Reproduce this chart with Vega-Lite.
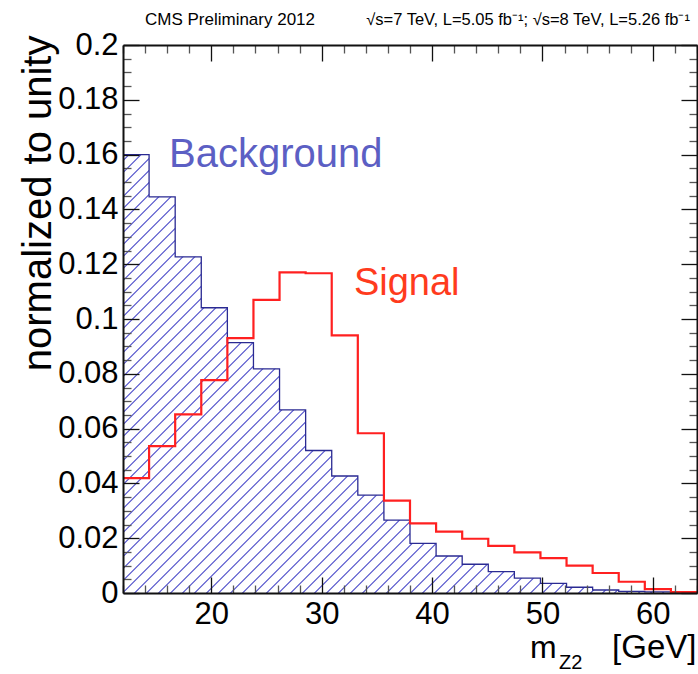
{
  "$schema": "https://vega.github.io/schema/vega-lite/v6.json",
  "width": 574,
  "height": 548,
  "autosize": {"type": "none"},
  "padding": {"left": 123, "top": 45, "right": 1, "bottom": 81},
  "background": "white",
  "config": {"font": "Liberation Sans", "view": {"stroke": null}},
  "data": {"values": [
    {"lo": 12, "hi": 14.3636, "bkg": 0.160, "sig": 0.0419},
    {"lo": 14.3636, "hi": 16.7273, "bkg": 0.1446, "sig": 0.0536},
    {"lo": 16.7273, "hi": 19.0909, "bkg": 0.1227, "sig": 0.0652},
    {"lo": 19.0909, "hi": 21.4545, "bkg": 0.1041, "sig": 0.0777},
    {"lo": 21.4545, "hi": 23.8182, "bkg": 0.0914, "sig": 0.093},
    {"lo": 23.8182, "hi": 26.1818, "bkg": 0.0818, "sig": 0.107},
    {"lo": 26.1818, "hi": 28.5455, "bkg": 0.0668, "sig": 0.117},
    {"lo": 28.5455, "hi": 30.9091, "bkg": 0.052, "sig": 0.1167},
    {"lo": 30.9091, "hi": 33.2727, "bkg": 0.0427, "sig": 0.094},
    {"lo": 33.2727, "hi": 35.6364, "bkg": 0.0357, "sig": 0.0583},
    {"lo": 35.6364, "hi": 38, "bkg": 0.0266, "sig": 0.0337},
    {"lo": 38, "hi": 40.3636, "bkg": 0.0181, "sig": 0.0254},
    {"lo": 40.3636, "hi": 42.7273, "bkg": 0.0135, "sig": 0.0224},
    {"lo": 42.7273, "hi": 45.0909, "bkg": 0.0105, "sig": 0.0198},
    {"lo": 45.0909, "hi": 47.4545, "bkg": 0.0078, "sig": 0.0172},
    {"lo": 47.4545, "hi": 49.8182, "bkg": 0.0054, "sig": 0.0148},
    {"lo": 49.8182, "hi": 52.1818, "bkg": 0.0035, "sig": 0.0127},
    {"lo": 52.1818, "hi": 54.5455, "bkg": 0.0021, "sig": 0.0100},
    {"lo": 54.5455, "hi": 56.9091, "bkg": 0.0011, "sig": 0.0073},
    {"lo": 56.9091, "hi": 59.2727, "bkg": 0.0006, "sig": 0.0041},
    {"lo": 59.2727, "hi": 61.6364, "bkg": 0.0004, "sig": 0.0014},
    {"lo": 61.6364, "hi": 64, "bkg": 0.0002, "sig": 0.0003}
  ]},
  "resolve": {"axis": {"x": "independent", "y": "independent"}},
  "layer": [
    {
      "transform": [{"fold": ["lo", "hi"], "as": ["side", "edge"]}],
      "mark": {
        "type": "area",
        "interpolate": "linear",
        "stroke": null,
        "fill": {
          "gradient": "linear",
          "x1": 0, "y1": 0, "x2": 1.32037, "y2": 1.00845,
          "stops": [
            {"offset": 0.00375, "color": "#fff"}, {"offset": 0.005, "color": "#3c3cc4"}, {"offset": 0.00625, "color": "#fff"},
            {"offset": 0.01375, "color": "#fff"}, {"offset": 0.015, "color": "#3c3cc4"}, {"offset": 0.01625, "color": "#fff"},
            {"offset": 0.02375, "color": "#fff"}, {"offset": 0.025, "color": "#3c3cc4"}, {"offset": 0.02625, "color": "#fff"},
            {"offset": 0.03375, "color": "#fff"}, {"offset": 0.035, "color": "#3c3cc4"}, {"offset": 0.03625, "color": "#fff"},
            {"offset": 0.04375, "color": "#fff"}, {"offset": 0.045, "color": "#3c3cc4"}, {"offset": 0.04625, "color": "#fff"},
            {"offset": 0.05375, "color": "#fff"}, {"offset": 0.055, "color": "#3c3cc4"}, {"offset": 0.05625, "color": "#fff"},
            {"offset": 0.06375, "color": "#fff"}, {"offset": 0.065, "color": "#3c3cc4"}, {"offset": 0.06625, "color": "#fff"},
            {"offset": 0.07375, "color": "#fff"}, {"offset": 0.075, "color": "#3c3cc4"}, {"offset": 0.07625, "color": "#fff"},
            {"offset": 0.08375, "color": "#fff"}, {"offset": 0.085, "color": "#3c3cc4"}, {"offset": 0.08625, "color": "#fff"},
            {"offset": 0.09375, "color": "#fff"}, {"offset": 0.095, "color": "#3c3cc4"}, {"offset": 0.09625, "color": "#fff"},
            {"offset": 0.10375, "color": "#fff"}, {"offset": 0.105, "color": "#3c3cc4"}, {"offset": 0.10625, "color": "#fff"},
            {"offset": 0.11375, "color": "#fff"}, {"offset": 0.115, "color": "#3c3cc4"}, {"offset": 0.11625, "color": "#fff"},
            {"offset": 0.12375, "color": "#fff"}, {"offset": 0.125, "color": "#3c3cc4"}, {"offset": 0.12625, "color": "#fff"},
            {"offset": 0.13375, "color": "#fff"}, {"offset": 0.135, "color": "#3c3cc4"}, {"offset": 0.13625, "color": "#fff"},
            {"offset": 0.14375, "color": "#fff"}, {"offset": 0.145, "color": "#3c3cc4"}, {"offset": 0.14625, "color": "#fff"},
            {"offset": 0.15375, "color": "#fff"}, {"offset": 0.155, "color": "#3c3cc4"}, {"offset": 0.15625, "color": "#fff"},
            {"offset": 0.16375, "color": "#fff"}, {"offset": 0.165, "color": "#3c3cc4"}, {"offset": 0.16625, "color": "#fff"},
            {"offset": 0.17375, "color": "#fff"}, {"offset": 0.175, "color": "#3c3cc4"}, {"offset": 0.17625, "color": "#fff"},
            {"offset": 0.18375, "color": "#fff"}, {"offset": 0.185, "color": "#3c3cc4"}, {"offset": 0.18625, "color": "#fff"},
            {"offset": 0.19375, "color": "#fff"}, {"offset": 0.195, "color": "#3c3cc4"}, {"offset": 0.19625, "color": "#fff"},
            {"offset": 0.20375, "color": "#fff"}, {"offset": 0.205, "color": "#3c3cc4"}, {"offset": 0.20625, "color": "#fff"},
            {"offset": 0.21375, "color": "#fff"}, {"offset": 0.215, "color": "#3c3cc4"}, {"offset": 0.21625, "color": "#fff"},
            {"offset": 0.22375, "color": "#fff"}, {"offset": 0.225, "color": "#3c3cc4"}, {"offset": 0.22625, "color": "#fff"},
            {"offset": 0.23375, "color": "#fff"}, {"offset": 0.235, "color": "#3c3cc4"}, {"offset": 0.23625, "color": "#fff"},
            {"offset": 0.24375, "color": "#fff"}, {"offset": 0.245, "color": "#3c3cc4"}, {"offset": 0.24625, "color": "#fff"},
            {"offset": 0.25375, "color": "#fff"}, {"offset": 0.255, "color": "#3c3cc4"}, {"offset": 0.25625, "color": "#fff"},
            {"offset": 0.26375, "color": "#fff"}, {"offset": 0.265, "color": "#3c3cc4"}, {"offset": 0.26625, "color": "#fff"},
            {"offset": 0.27375, "color": "#fff"}, {"offset": 0.275, "color": "#3c3cc4"}, {"offset": 0.27625, "color": "#fff"},
            {"offset": 0.28375, "color": "#fff"}, {"offset": 0.285, "color": "#3c3cc4"}, {"offset": 0.28625, "color": "#fff"},
            {"offset": 0.29375, "color": "#fff"}, {"offset": 0.295, "color": "#3c3cc4"}, {"offset": 0.29625, "color": "#fff"},
            {"offset": 0.30375, "color": "#fff"}, {"offset": 0.305, "color": "#3c3cc4"}, {"offset": 0.30625, "color": "#fff"},
            {"offset": 0.31375, "color": "#fff"}, {"offset": 0.315, "color": "#3c3cc4"}, {"offset": 0.31625, "color": "#fff"},
            {"offset": 0.32375, "color": "#fff"}, {"offset": 0.325, "color": "#3c3cc4"}, {"offset": 0.32625, "color": "#fff"},
            {"offset": 0.33375, "color": "#fff"}, {"offset": 0.335, "color": "#3c3cc4"}, {"offset": 0.33625, "color": "#fff"},
            {"offset": 0.34375, "color": "#fff"}, {"offset": 0.345, "color": "#3c3cc4"}, {"offset": 0.34625, "color": "#fff"},
            {"offset": 0.35375, "color": "#fff"}, {"offset": 0.355, "color": "#3c3cc4"}, {"offset": 0.35625, "color": "#fff"},
            {"offset": 0.36375, "color": "#fff"}, {"offset": 0.365, "color": "#3c3cc4"}, {"offset": 0.36625, "color": "#fff"},
            {"offset": 0.37375, "color": "#fff"}, {"offset": 0.375, "color": "#3c3cc4"}, {"offset": 0.37625, "color": "#fff"},
            {"offset": 0.38375, "color": "#fff"}, {"offset": 0.385, "color": "#3c3cc4"}, {"offset": 0.38625, "color": "#fff"},
            {"offset": 0.39375, "color": "#fff"}, {"offset": 0.395, "color": "#3c3cc4"}, {"offset": 0.39625, "color": "#fff"},
            {"offset": 0.40375, "color": "#fff"}, {"offset": 0.405, "color": "#3c3cc4"}, {"offset": 0.40625, "color": "#fff"},
            {"offset": 0.41375, "color": "#fff"}, {"offset": 0.415, "color": "#3c3cc4"}, {"offset": 0.41625, "color": "#fff"},
            {"offset": 0.42375, "color": "#fff"}, {"offset": 0.425, "color": "#3c3cc4"}, {"offset": 0.42625, "color": "#fff"},
            {"offset": 0.43375, "color": "#fff"}, {"offset": 0.435, "color": "#3c3cc4"}, {"offset": 0.43625, "color": "#fff"},
            {"offset": 0.44375, "color": "#fff"}, {"offset": 0.445, "color": "#3c3cc4"}, {"offset": 0.44625, "color": "#fff"},
            {"offset": 0.45375, "color": "#fff"}, {"offset": 0.455, "color": "#3c3cc4"}, {"offset": 0.45625, "color": "#fff"},
            {"offset": 0.46375, "color": "#fff"}, {"offset": 0.465, "color": "#3c3cc4"}, {"offset": 0.46625, "color": "#fff"},
            {"offset": 0.47375, "color": "#fff"}, {"offset": 0.475, "color": "#3c3cc4"}, {"offset": 0.47625, "color": "#fff"},
            {"offset": 0.48375, "color": "#fff"}, {"offset": 0.485, "color": "#3c3cc4"}, {"offset": 0.48625, "color": "#fff"},
            {"offset": 0.49375, "color": "#fff"}, {"offset": 0.495, "color": "#3c3cc4"}, {"offset": 0.49625, "color": "#fff"},
            {"offset": 0.50375, "color": "#fff"}, {"offset": 0.505, "color": "#3c3cc4"}, {"offset": 0.50625, "color": "#fff"},
            {"offset": 0.51375, "color": "#fff"}, {"offset": 0.515, "color": "#3c3cc4"}, {"offset": 0.51625, "color": "#fff"},
            {"offset": 0.52375, "color": "#fff"}, {"offset": 0.525, "color": "#3c3cc4"}, {"offset": 0.52625, "color": "#fff"},
            {"offset": 0.53375, "color": "#fff"}, {"offset": 0.535, "color": "#3c3cc4"}, {"offset": 0.53625, "color": "#fff"},
            {"offset": 0.54375, "color": "#fff"}, {"offset": 0.545, "color": "#3c3cc4"}, {"offset": 0.54625, "color": "#fff"},
            {"offset": 0.55375, "color": "#fff"}, {"offset": 0.555, "color": "#3c3cc4"}, {"offset": 0.55625, "color": "#fff"},
            {"offset": 0.56375, "color": "#fff"}, {"offset": 0.565, "color": "#3c3cc4"}, {"offset": 0.56625, "color": "#fff"},
            {"offset": 0.57375, "color": "#fff"}, {"offset": 0.575, "color": "#3c3cc4"}, {"offset": 0.57625, "color": "#fff"},
            {"offset": 0.58375, "color": "#fff"}, {"offset": 0.585, "color": "#3c3cc4"}, {"offset": 0.58625, "color": "#fff"},
            {"offset": 0.59375, "color": "#fff"}, {"offset": 0.595, "color": "#3c3cc4"}, {"offset": 0.59625, "color": "#fff"},
            {"offset": 0.60375, "color": "#fff"}, {"offset": 0.605, "color": "#3c3cc4"}, {"offset": 0.60625, "color": "#fff"},
            {"offset": 0.61375, "color": "#fff"}, {"offset": 0.615, "color": "#3c3cc4"}, {"offset": 0.61625, "color": "#fff"},
            {"offset": 0.62375, "color": "#fff"}, {"offset": 0.625, "color": "#3c3cc4"}, {"offset": 0.62625, "color": "#fff"},
            {"offset": 0.63375, "color": "#fff"}, {"offset": 0.635, "color": "#3c3cc4"}, {"offset": 0.63625, "color": "#fff"},
            {"offset": 0.64375, "color": "#fff"}, {"offset": 0.645, "color": "#3c3cc4"}, {"offset": 0.64625, "color": "#fff"},
            {"offset": 0.65375, "color": "#fff"}, {"offset": 0.655, "color": "#3c3cc4"}, {"offset": 0.65625, "color": "#fff"},
            {"offset": 0.66375, "color": "#fff"}, {"offset": 0.665, "color": "#3c3cc4"}, {"offset": 0.66625, "color": "#fff"},
            {"offset": 0.67375, "color": "#fff"}, {"offset": 0.675, "color": "#3c3cc4"}, {"offset": 0.67625, "color": "#fff"},
            {"offset": 0.68375, "color": "#fff"}, {"offset": 0.685, "color": "#3c3cc4"}, {"offset": 0.68625, "color": "#fff"},
            {"offset": 0.69375, "color": "#fff"}, {"offset": 0.695, "color": "#3c3cc4"}, {"offset": 0.69625, "color": "#fff"},
            {"offset": 0.70375, "color": "#fff"}, {"offset": 0.705, "color": "#3c3cc4"}, {"offset": 0.70625, "color": "#fff"},
            {"offset": 0.71375, "color": "#fff"}, {"offset": 0.715, "color": "#3c3cc4"}, {"offset": 0.71625, "color": "#fff"},
            {"offset": 0.72375, "color": "#fff"}, {"offset": 0.725, "color": "#3c3cc4"}, {"offset": 0.72625, "color": "#fff"},
            {"offset": 0.73375, "color": "#fff"}, {"offset": 0.735, "color": "#3c3cc4"}, {"offset": 0.73625, "color": "#fff"},
            {"offset": 0.74375, "color": "#fff"}, {"offset": 0.745, "color": "#3c3cc4"}, {"offset": 0.74625, "color": "#fff"},
            {"offset": 0.75375, "color": "#fff"}, {"offset": 0.755, "color": "#3c3cc4"}, {"offset": 0.75625, "color": "#fff"},
            {"offset": 0.76375, "color": "#fff"}, {"offset": 0.765, "color": "#3c3cc4"}, {"offset": 0.76625, "color": "#fff"},
            {"offset": 0.77375, "color": "#fff"}, {"offset": 0.775, "color": "#3c3cc4"}, {"offset": 0.77625, "color": "#fff"},
            {"offset": 0.78375, "color": "#fff"}, {"offset": 0.785, "color": "#3c3cc4"}, {"offset": 0.78625, "color": "#fff"},
            {"offset": 0.79375, "color": "#fff"}, {"offset": 0.795, "color": "#3c3cc4"}, {"offset": 0.79625, "color": "#fff"},
            {"offset": 0.80375, "color": "#fff"}, {"offset": 0.805, "color": "#3c3cc4"}, {"offset": 0.80625, "color": "#fff"},
            {"offset": 0.81375, "color": "#fff"}, {"offset": 0.815, "color": "#3c3cc4"}, {"offset": 0.81625, "color": "#fff"},
            {"offset": 0.82375, "color": "#fff"}, {"offset": 0.825, "color": "#3c3cc4"}, {"offset": 0.82625, "color": "#fff"},
            {"offset": 0.83375, "color": "#fff"}, {"offset": 0.835, "color": "#3c3cc4"}, {"offset": 0.83625, "color": "#fff"},
            {"offset": 0.84375, "color": "#fff"}, {"offset": 0.845, "color": "#3c3cc4"}, {"offset": 0.84625, "color": "#fff"}
          ]
        }
      },
      "encoding": {
        "x": {
          "field": "edge", "type": "quantitative",
          "scale": {"domain": [12, 64], "nice": false, "zero": false},
          "axis": {
            "orient": "bottom",
            "values": [12,14,16,18,20,22,24,26,28,30,32,34,36,38,40,42,44,46,48,50,52,54,56,58,60,62,64],
            "tickSize": {"condition": {"test": "datum.value % 10 === 0", "value": -16}, "value": -8},
            "tickColor": {"condition": {"test": "datum.value % 10 === 0", "value": "#111"}, "value": "#555"},
            "tickWidth": 1.3,
            "labelExpr": "datum.value % 10 === 0 ? datum.label : ''",
            "labelPadding": 22,
            "labelFontSize": 31,
            "labelColor": "black",
            "labelFont": "Liberation Sans",
            "labelOverlap": false,
            "labelFlush": false,
            "labelBound": false,
            "domain": true, "domainColor": "#111", "domainWidth": 2,
            "grid": false,
            "title": null,
            "zindex": 1
          }
        },
        "y": {
          "field": "bkg", "type": "quantitative", "stack": null,
          "scale": {"domain": [0, 0.2], "nice": false},
          "axis": {
            "orient": "left",
            "values": [0,0.005,0.01,0.015,0.02,0.025,0.03,0.035,0.04,0.045,0.05,0.055,0.06,0.065,0.07,0.075,0.08,0.085,0.09,0.095,0.1,0.105,0.11,0.115,0.12,0.125,0.13,0.135,0.14,0.145,0.15,0.155,0.16,0.165,0.17,0.175,0.18,0.185,0.19,0.195,0.2],
            "format": "~g",
            "tickSize": {"condition": {"test": "abs(datum.value*50-round(datum.value*50))<0.01", "value": -16}, "value": -8},
            "tickColor": {"condition": {"test": "abs(datum.value*50-round(datum.value*50))<0.01", "value": "#111"}, "value": "#555"},
            "tickWidth": 1.3,
            "labelExpr": "abs(datum.value*50-round(datum.value*50))<0.01 ? datum.label : ''",
            "labelPadding": 21,
            "labelFontSize": 31,
            "labelColor": "black",
            "labelFont": "Liberation Sans",
            "labelOverlap": false,
            "labelFlush": false,
            "labelBound": false,
            "domain": true, "domainColor": "#111", "domainWidth": 2,
            "grid": false,
            "title": "normalized to unity",
            "titleFont": "Liberation Sans",
            "titleFontSize": 40,
            "titleFontWeight": "normal",
            "titleColor": "black",
            "titleAngle": -90,
            "titleAnchor": "end",
            "titleAlign": "right",
            "titleBaseline": "alphabetic",
            "titleX": -73,
            "titleY": -10,
            "zindex": 1
          }
        },
        "order": [{"field": "edge", "type": "quantitative"}, {"field": "side", "type": "nominal"}]
      }
    },
    {
      "transform": [{"fold": ["lo", "hi"], "as": ["side", "edge"]}],
      "mark": {"type": "line", "interpolate": "linear", "color": "#2a2a92", "strokeWidth": 1.3},
      "encoding": {
        "x": {
          "field": "edge", "type": "quantitative",
          "axis": {
            "orient": "top",
            "values": [12,14,16,18,20,22,24,26,28,30,32,34,36,38,40,42,44,46,48,50,52,54,56,58,60,62,64],
            "tickSize": {"condition": {"test": "datum.value % 10 === 0", "value": -16}, "value": -8},
            "tickColor": {"condition": {"test": "datum.value % 10 === 0", "value": "#111"}, "value": "#555"},
            "tickWidth": 1.3,
            "labels": false,
            "domain": true, "domainColor": "#111", "domainWidth": 2,
            "grid": false, "title": null, "zindex": 1
          }
        },
        "y": {
          "field": "bkg", "type": "quantitative", "stack": null,
          "axis": {
            "orient": "right",
            "values": [0,0.005,0.01,0.015,0.02,0.025,0.03,0.035,0.04,0.045,0.05,0.055,0.06,0.065,0.07,0.075,0.08,0.085,0.09,0.095,0.1,0.105,0.11,0.115,0.12,0.125,0.13,0.135,0.14,0.145,0.15,0.155,0.16,0.165,0.17,0.175,0.18,0.185,0.19,0.195,0.2],
            "tickSize": {"condition": {"test": "abs(datum.value*50-round(datum.value*50))<0.01", "value": -16}, "value": -8},
            "tickColor": {"condition": {"test": "abs(datum.value*50-round(datum.value*50))<0.01", "value": "#111"}, "value": "#555"},
            "tickWidth": 1.3,
            "labels": false,
            "domain": true, "domainColor": "#111", "domainWidth": 2,
            "grid": false, "title": null, "zindex": 1
          }
        },
        "order": [{"field": "edge", "type": "quantitative"}, {"field": "side", "type": "nominal"}]
      }
    },
    {
      "transform": [{"fold": ["lo", "hi"], "as": ["side", "edge"]}],
      "mark": {"type": "line", "interpolate": "linear", "color": "#ff2020", "strokeWidth": 2.2},
      "encoding": {
        "x": {"field": "edge", "type": "quantitative", "axis": null},
        "y": {"field": "sig", "type": "quantitative", "stack": null, "axis": null},
        "order": [{"field": "edge", "type": "quantitative"}, {"field": "side", "type": "nominal"}]
      }
    },
    {
      "data": {"values": [{"label": "Background"}]},
      "mark": {"type": "text", "font": "Liberation Sans", "fontSize": 40, "color": "#5c5fc4", "align": "left", "baseline": "alphabetic"},
      "encoding": {
        "x": {"datum": 16.17, "type": "quantitative", "axis": null},
        "y": {"datum": 0.1555, "type": "quantitative", "axis": null},
        "text": {"field": "label"}
      }
    },
    {
      "data": {"values": [{"label": "Signal"}]},
      "mark": {"type": "text", "font": "Liberation Sans", "fontSize": 38, "color": "#ff3b1d", "align": "left", "baseline": "alphabetic"},
      "encoding": {
        "x": {"datum": 32.92, "type": "quantitative", "axis": null},
        "y": {"datum": 0.1088, "type": "quantitative", "axis": null},
        "text": {"field": "label"}
      }
    },
    {
      "data": {"values": [{"label": "CMS Preliminary 2012"}]},
      "mark": {"type": "text", "font": "Liberation Sans", "fontSize": 17, "color": "black", "align": "left", "baseline": "alphabetic"},
      "encoding": {
        "x": {"datum": 13.99, "type": "quantitative", "axis": null},
        "y": {"datum": 0.2073, "type": "quantitative", "axis": null},
        "text": {"field": "label"}
      }
    },
    {
      "data": {"values": [{"label": "√s=7 TeV, L=5.05 fb⁻¹;  √s=8 TeV, L=5.26 fb⁻¹"}]},
      "mark": {"type": "text", "font": "Liberation Sans", "fontSize": 16.5, "color": "black", "align": "right", "baseline": "alphabetic"},
      "encoding": {
        "x": {"datum": 63.36, "type": "quantitative", "axis": null},
        "y": {"datum": 0.2073, "type": "quantitative", "axis": null},
        "text": {"field": "label"}
      }
    },
    {
      "data": {"values": [{"label": "m"}]},
      "mark": {"type": "text", "font": "Liberation Sans", "fontSize": 32, "color": "black", "align": "left", "baseline": "alphabetic"},
      "encoding": {
        "x": {"datum": 48.87, "type": "quantitative", "axis": null},
        "y": {"datum": -0.0238, "type": "quantitative", "axis": null},
        "text": {"field": "label"}
      }
    },
    {
      "data": {"values": [{"label": "Z2"}]},
      "mark": {"type": "text", "font": "Liberation Sans", "fontSize": 20, "color": "black", "align": "left", "baseline": "alphabetic"},
      "encoding": {
        "x": {"datum": 51.5, "type": "quantitative", "axis": null},
        "y": {"datum": -0.0276, "type": "quantitative", "axis": null},
        "text": {"field": "label"}
      }
    },
    {
      "data": {"values": [{"label": "[GeV]"}]},
      "mark": {"type": "text", "font": "Liberation Sans", "fontSize": 33, "color": "black", "align": "right", "baseline": "alphabetic"},
      "encoding": {
        "x": {"datum": 63.95, "type": "quantitative", "axis": null},
        "y": {"datum": -0.0238, "type": "quantitative", "axis": null},
        "text": {"field": "label"}
      }
    }
  ]
}
